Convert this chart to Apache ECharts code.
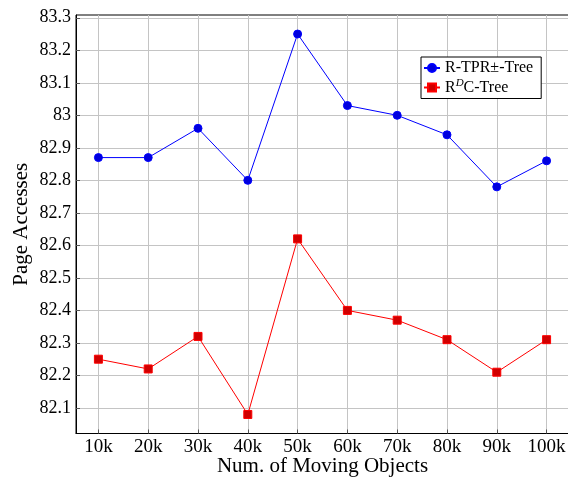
<!DOCTYPE html>
<html>
<head>
<meta charset="utf-8">
<script src="https://cdn.jsdelivr.net/npm/echarts@6/dist/echarts.min.js"></script>
<style>
html,body{margin:0;padding:0;background:#fff;}
#chart{width:568px;height:479px;}
</style>
</head>
<body>
<div id="chart"></div>
<script>
const categories = [10, 20, 30, 40, 50, 60, 70, 80, 90, 100];
const tickLabels = ['10k','20k','30k','40k','50k','60k','70k','80k','90k','100k'];
const rtprValues = [82.87, 82.87, 82.96, 82.80, 83.25, 83.03, 83.00, 82.94, 82.78, 82.86];
const rdcValues = [82.25, 82.22, 82.32, 82.08, 82.62, 82.40, 82.37, 82.31, 82.21, 82.31];
const yTicks = [82.1, 82.2, 82.3, 82.4, 82.5, 82.6, 82.7, 82.8, 82.9, 83.0, 83.1, 83.2, 83.3];

const FONT = '"Liberation Serif", "DejaVu Serif", serif';
const chart = echarts.init(document.getElementById('chart'));
chart.setOption({
  animation: false,
  backgroundColor: '#fff',
  grid: { left: 76, top: 15, width: 493, height: 418.5, outerBoundsMode: 'none', containLabel: false,
    show: true, borderColor: '#000', borderWidth: 1, backgroundColor: 'transparent' },
  xAxis: {
    type: 'value', min: 5.5, max: 104.5,
    name: 'Num. of Moving Objects', nameLocation: 'middle', nameGap: 22, nameMoveOverlap: false,
    nameTextStyle: { fontFamily: FONT, fontSize: 21, color: '#000', verticalAlign: 'top' },
    axisLine: { show: true, lineStyle: { color: '#000', width: 1 } },
    axisTick: { show: true, inside: true, length: 4, lineStyle: { color: '#555' }, customValues: categories },
    axisLabel: { customValues: categories, fontFamily: FONT, fontSize: 19, color: '#000', margin: 4,
      formatter: v => tickLabels[categories.indexOf(v)] },
    splitLine: { show: true, lineStyle: { color: '#c4c4c4', width: 1 } }
  },
  yAxis: {
    type: 'value', min: 82.0215, max: 83.3085,
    name: 'Page Accesses', nameLocation: 'middle', nameGap: 44, nameMoveOverlap: false,
    nameTextStyle: { fontFamily: FONT, fontSize: 21, color: '#000' },
    axisLine: { show: true, lineStyle: { color: '#000', width: 1 } },
    axisTick: { show: true, inside: true, length: 4, lineStyle: { color: '#555' }, customValues: yTicks },
    axisLabel: { customValues: yTicks, fontFamily: FONT, fontSize: 18, color: '#000', margin: 5,
      formatter: v => String(Math.round(v * 10) / 10) },
    splitLine: { show: true, lineStyle: { color: '#c4c4c4', width: 1 } }
  },
  legend: {
    left: 421, top: 57, orient: 'vertical', itemGap: 2, itemWidth: 16, itemHeight: 10,
    backgroundColor: '#fff', borderColor: '#000', borderWidth: 1, padding: [3, 8, 3, 2],
    textStyle: { fontFamily: FONT, fontSize: 16, color: '#000',
      rich: { a: { fontFamily: FONT, fontSize: 16, color: '#000' },
              sup: { fontFamily: FONT, fontSize: 11, fontStyle: 'italic', color: '#000', verticalAlign: 'top', padding: [0, 0, 8, 0] } } },
    formatter: name => name === 'RDC' ? '{a|R}{sup|D}{a|C-Tree}' : '{a|' + name + '}',
    data: ['R-TPR±-Tree', 'RDC']
  },
  series: [
    { name: 'R-TPR±-Tree', type: 'line', data: categories.map((c, i) => [c, rtprValues[i]]),
      symbol: 'circle', symbolSize: 8,
      lineStyle: { color: '#0000ff', width: 1 },
      itemStyle: { color: '#0000dd', borderColor: '#0000ff', borderWidth: 1 } },
    { name: 'RDC', type: 'line', data: categories.map((c, i) => [c, rdcValues[i]]),
      symbol: 'rect', symbolSize: 8,
      lineStyle: { color: '#ff0000', width: 1 },
      itemStyle: { color: '#d00000', borderColor: '#ff0000', borderWidth: 1 } }
  ]
});
</script>
</body>
</html>
